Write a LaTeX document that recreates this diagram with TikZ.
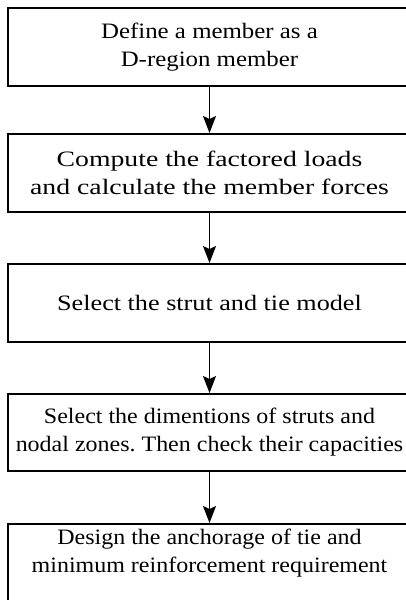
\documentclass[tikz,border=0pt]{standalone}
\usepackage{fontspec}
\setmainfont{Liberation Serif}
\usetikzlibrary{arrows.meta}
\frenchspacing
\tikzset{
  box/.style={draw, line width=2pt, minimum width=403pt, inner sep=0pt},
  txt/.style={align=center, inner sep=0pt, transform shape, font=\fontsize{22}{28}\selectfont},
  arr/.style={-{Stealth[length=17pt,width=13pt,inset=3pt]}, line width=1.5pt}
}
\begin{document}
\begin{tikzpicture}[x=1pt,y=-1pt]
\useasboundingbox (0,0) rectangle (406,600);
\clip (0,0) rectangle (406,600);
\node[box, minimum height=78pt] (b1) at (209.5,47) {};
\node[txt, xscale=1.13] (t1) at (b1.center) {Define a member as a\\D-region member};
\node[box, minimum height=78pt] (b2) at (209.5,173) {};
\node[txt, xscale=1.26] (t2) at (b2.center) {Compute the factored loads\\and calculate the member forces};
\node[box, minimum height=78pt] (b3) at (209.5,303) {};
\node[txt, xscale=1.19] (t3) at (b3.center) {Select the strut and tie model};
\node[box, minimum height=77pt] (b4) at (209.5,432.5) {};
\node[txt, xscale=1.09] (t4) at (b4.center) {Select the dimentions of struts and\\nodal zones. Then check their capacities};
\node[box, minimum height=82pt] (b5) at (209.5,565) {};
\node[txt, xscale=1.09] (t5) at (209.5,553) {Design the anchorage of tie and\\minimum reinforcement requirement};
\draw[arr] (b1.south) -- (b2.north);
\draw[arr] (b2.south) -- (b3.north);
\draw[arr] (b3.south) -- (b4.north);
\draw[arr] (b4.south) -- (b5.north);
\end{tikzpicture}
\end{document}
